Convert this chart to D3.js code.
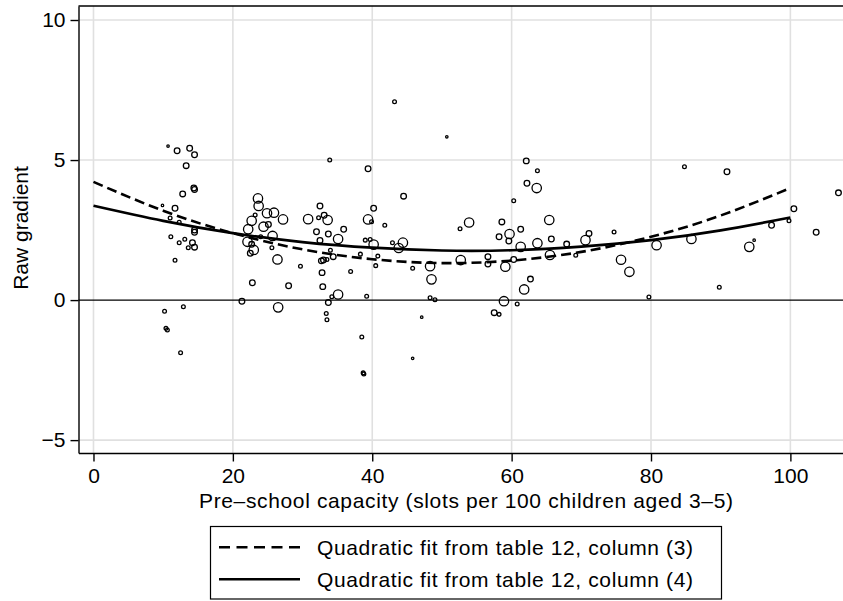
<!DOCTYPE html>
<html>
<head>
<meta charset="utf-8">
<script src="https://cdn.jsdelivr.net/npm/d3@7"></script>
<style>
  body { margin: 0; background: #fff; }
  text { font-family: "Liberation Sans", Arial, sans-serif; }
</style>
</head>
<body>
<script>
// pre-school capacity, raw gradient and weight of each municipality
let capacity = [10.7, 12.0, 13.8, 14.5, 13.3, 14.4, 14.5, 12.8, 9.9, 11.7, 11.0, 12.3, 14.5, 14.5, 11.1, 12.3, 13.1, 14.2, 13.6, 14.5,
  11.7, 10.2, 12.9, 10.4, 10.6, 12.5, 21.3, 22.2, 22.1, 22.7, 22.7, 22.5, 23.0, 22.8, 23.2, 23.6, 23.7, 24.4, 24.0, 24.9,
  25.1, 25.9, 25.7, 25.6, 26.4, 26.5, 27.2, 28.0, 29.7, 30.8, 32.3, 33.1, 33.6, 32.5, 32.0, 33.7, 35.9, 32.5, 35.1, 34.0,
  34.4, 33.0, 32.7, 33.5, 32.8, 36.9, 32.9, 35.1, 34.2, 33.7, 33.4, 33.5, 33.9, 39.4, 40.2, 39.4, 39.9, 41.8, 39.0, 39.7,
  40.2, 38.3, 40.8, 40.5, 39.2, 38.5, 38.7, 38.8, 43.2, 44.5, 42.9, 44.4, 43.8, 45.8, 45.8, 47.1, 48.3, 48.5, 48.3, 49.0,
  50.7, 52.6, 53.9, 52.7, 56.6, 56.6, 58.6, 58.2, 59.7, 59.6, 61.3, 61.3, 60.3, 62.1, 63.7, 62.2, 63.6, 63.7, 65.4, 65.7,
  65.5, 67.9, 69.2, 70.6, 71.1, 74.7, 75.7, 76.9, 80.8, 59.1, 60.3, 62.7, 61.8, 58.9, 60.8, 57.5, 58.2, 79.7, 84.8, 90.9,
  106.9, 100.5, 99.8, 97.3, 103.7, 85.8, 94.1, 94.8, 89.8]
let gradient = [5.50, 5.33, 5.42, 5.19, 4.80, 4.00, 3.95, 3.79, 3.38, 3.28, 2.93, 2.78, 2.50, 2.42, 2.26, 2.05, 2.17, 2.05, 1.87, 1.89,
  1.42, -0.40, -0.24, -1.01, -1.07, -1.88, -0.04, 2.53, 2.08, 2.83, 1.99, 1.67, 1.79, 0.62, 3.04, 3.63, 3.36, 2.62, 2.26, 3.10,
  2.70, 3.12, 2.29, 1.87, 1.45, -0.26, 2.88, 0.51, 1.21, 2.89, 2.94, 3.03, 2.86, 3.36, 2.44, 2.36, 2.53, 2.13, 2.18, 1.78,
  1.55, 1.43, 1.40, 1.45, 0.98, 1.02, 0.48, 0.20, 0.12, -0.09, -0.48, -0.70, 5.00, 4.69, 3.28, 2.88, 2.80, 2.67, 2.14, 2.16,
  1.98, 1.64, 1.57, 1.23, 0.14, -1.32, -2.60, -2.64, 7.08, 3.71, 2.05, 2.05, 1.86, 1.14, -2.08, -0.61, 1.21, 0.74, 0.08, 0.01,
  5.83, 2.55, 2.77, 1.43, 1.55, 1.29, 2.79, 2.26, 2.36, 2.11, 2.53, 1.90, 3.55, 4.97, 4.62, 4.17, 4.00, 2.03, 2.86, 2.18,
  1.61, 2.00, 1.60, 2.14, 2.38, 2.43, 1.44, 1.01, 1.96, 1.19, 1.45, 0.75, 0.38, -0.04, -0.14, -0.45, -0.51, 0.11, 4.76, 4.58,
  3.83, 3.26, 2.83, 2.67, 2.42, 2.18, 1.90, 2.14, 0.46]
let weight = [1.5, 8, 8, 8, 8, 8, 8, 8, 1.5, 8, 3.5, 3.5, 8, 8, 3.5, 3.5, 3.5, 8, 3.5, 8,
  3.5, 3.5, 3.5, 3.5, 3.5, 3.5, 8, 22, 22, 22, 8, 8, 22, 8, 3.5, 22, 22, 22, 3.5, 22,
  8, 22, 22, 3.5, 22, 22, 22, 8, 3.5, 22, 3.5, 8, 22, 8, 8, 8, 8, 8, 22, 3.5,
  8, 8, 8, 3.5, 8, 3.5, 8, 22, 3.5, 8, 3.5, 3.5, 3.5, 8, 8, 22, 3.5, 3.5, 3.5, 3.5,
  22, 3.5, 3.5, 3.5, 3.5, 3.5, 3.5, 3.5, 3.5, 8, 3.5, 22, 22, 3.5, 1.5, 1.5, 22, 22, 3.5, 3.5,
  1.5, 3.5, 22, 22, 8, 8, 8, 8, 22, 8, 8, 22, 3.5, 8, 3.5, 8, 22, 22, 22, 8,
  22, 8, 3.5, 22, 8, 3.5, 22, 22, 22, 22, 8, 8, 22, 22, 3.5, 8, 3.5, 3.5, 3.5, 8,
  8, 8, 3.5, 8, 8, 22, 22, 1.5, 3.5]

// quadratic fits
let fitX = [0, 10, 20, 30, 40, 50, 60, 70, 80, 90, 100]
let fitCol3 = [4.22, 3.19, 2.39, 1.81, 1.46, 1.32, 1.41, 1.72, 2.26, 3.02, 4.00]
let fitCol4 = [3.37, 2.83, 2.39, 2.07, 1.87, 1.77, 1.78, 1.91, 2.14, 2.49, 2.95]

let xTicks = [0, 20, 40, 60, 80, 100]
let yTicks = [-5, 0, 5, 10]
let legendLabels = ["Quadratic fit from table 12, column (3)", "Quadratic fit from table 12, column (4)"]

let width = 843
let height = 601
let plot = { left: 78.5, right: 843, top: 6, bottom: 453 }

const svg = d3.select("body")
  .append("svg")
  .attr("width", width)
  .attr("height", height)

var x = d3.scaleLinear()
  .domain([-2.15, 107.55])
  .range([plot.left, plot.right])

var y = d3.scaleLinear()
  .domain([-5.46, 10.5])
  .range([plot.bottom, plot.top])

var r = d3.scaleSqrt()
  .domain([0, 22])
  .range([0, 4.7])

// grid
svg.append("g")
  .selectAll("line")
  .data(xTicks)
  .join("line")
  .attr("x1", d => x(d)).attr("x2", d => x(d))
  .attr("y1", plot.top).attr("y2", plot.bottom)
  .attr("stroke", "#e0e0e0")
  .attr("stroke-width", 1.6)

svg.append("g")
  .selectAll("line")
  .data(yTicks.filter(d => d != 0))
  .join("line")
  .attr("x1", plot.left).attr("x2", plot.right)
  .attr("y1", d => y(d)).attr("y2", d => y(d))
  .attr("stroke", "#e0e0e0")
  .attr("stroke-width", 1.6)

// zero line
svg.append("line")
  .attr("x1", plot.left).attr("x2", plot.right)
  .attr("y1", y(0)).attr("y2", y(0))
  .attr("stroke", "#000")
  .attr("stroke-width", 1.4)

// points
svg.append("g")
  .selectAll("circle")
  .data(d3.range(capacity.length))
  .join("circle")
  .attr("cx", i => x(capacity[i]))
  .attr("cy", i => y(gradient[i]))
  .attr("r", i => r(weight[i]))
  .attr("fill", "none")
  .attr("stroke", "#000")
  .attr("stroke-width", 1.3)

// fit lines
let line = d3.line().curve(d3.curveNatural)
svg.append("path")
  .attr("d", line(fitX.map((d, i) => [x(d), y(fitCol3[i])])))
  .attr("fill", "none")
  .attr("stroke", "#000")
  .attr("stroke-width", 2.6)
  .attr("stroke-dasharray", "10,5")

svg.append("path")
  .attr("d", line(fitX.map((d, i) => [x(d), y(fitCol4[i])])))
  .attr("fill", "none")
  .attr("stroke", "#000")
  .attr("stroke-width", 2.7)

// axes
let fmt = d => d < 0 ? "\u2212" + Math.abs(d) : String(d)

svg.append("g")
  .attr("transform", `translate(${plot.left},0)`)
  .call(d3.axisLeft(y).tickValues(yTicks).tickFormat(fmt).tickSize(8).tickSizeOuter(0).tickPadding(5))
svg.append("g")
  .attr("transform", `translate(0,${plot.bottom})`)
  .call(d3.axisBottom(x).tickValues(xTicks).tickFormat(fmt).tickSize(8.5).tickSizeOuter(0).tickPadding(6.5))

svg.selectAll(".domain, .tick line").attr("stroke", "#000").attr("stroke-width", 1.4)
svg.selectAll(".tick text")
  .attr("font-size", 21)
  .attr("font-family", "Liberation Sans, Arial, sans-serif")
  .attr("fill", "#000")

// frame on top
svg.append("line")
  .attr("x1", plot.left).attr("x2", plot.right)
  .attr("y1", plot.top).attr("y2", plot.top)
  .attr("stroke", "#000").attr("stroke-width", 1.4)

// titles
svg.append("text")
  .attr("x", 466).attr("y", 508)
  .attr("text-anchor", "middle")
  .attr("font-size", 21)
  .attr("textLength", 534)
  .attr("lengthAdjust", "spacing")
  .text("Pre\u2013school capacity (slots per 100 children aged 3\u20135)")

svg.append("text")
  .attr("transform", "translate(28,228) rotate(-90)")
  .attr("text-anchor", "middle")
  .attr("font-size", 21)
  .text("Raw gradient")

// legend
let legend = svg.append("g")
legend.append("rect")
  .attr("x", 210.5).attr("y", 526.5)
  .attr("width", 511).attr("height", 72.5)
  .attr("fill", "#fff")
  .attr("stroke", "#000")
  .attr("stroke-width", 1.2)

legend.selectAll("line")
  .data(legendLabels)
  .join("line")
  .attr("x1", 219).attr("x2", 300)
  .attr("y1", (d, i) => 547.3 + i * 32).attr("y2", (d, i) => 547.3 + i * 32)
  .attr("stroke", "#000")
  .attr("stroke-width", 2.6)
  .attr("stroke-dasharray", (d, i) => i == 0 ? "11,6.5" : null)

legend.selectAll("text")
  .data(legendLabels)
  .join("text")
  .attr("x", 317)
  .attr("y", (d, i) => 547.3 + i * 32)
  .attr("dy", "0.35em")
  .attr("font-size", 21)
  .attr("textLength", 376)
  .attr("lengthAdjust", "spacing")
  .text(d => d)
</script>
</body>
</html>
